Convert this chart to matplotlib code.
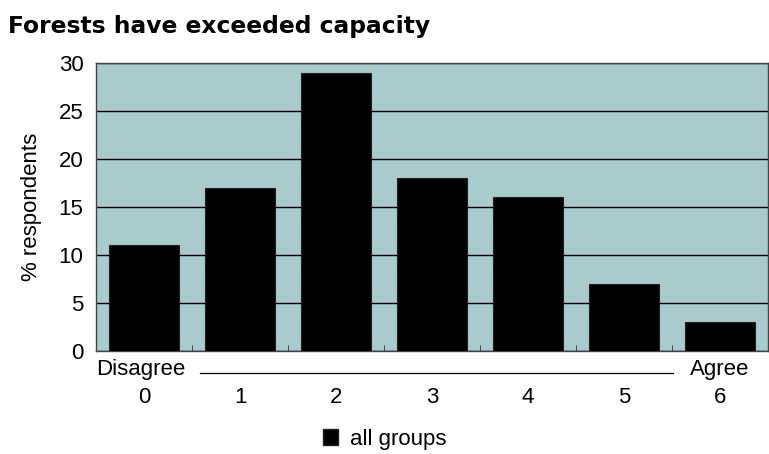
import matplotlib.pyplot as plt
from matplotlib.lines import Line2D
from matplotlib.patches import Patch

# data
categories = ['0', '1', '2', '3', '4', '5', '6']
values = [11, 17, 29, 18, 16, 7, 3]
series_name = 'all groups'
title = 'Forests have exceeded capacity'

plt.rcParams['font.family'] = ['Liberation Sans', 'DejaVu Sans']
FS = 16

fig = plt.figure(figsize=(7.69, 4.54), dpi=100)
ax = fig.add_axes([96 / 769, 1 - 351 / 454, 672 / 769, 288 / 454])
ax.set_facecolor('#a9cbcb')

x = list(range(len(categories)))
ax.bar(x, values, width=0.73, color='black', edgecolor='#222222', linewidth=0.8, zorder=3)

ax.set_xlim(-0.5, len(categories) - 0.5)
ax.set_ylim(0, 30)
ax.set_yticks(range(0, 31, 5))
ax.yaxis.grid(True, color='black', linewidth=1.0, zorder=1)
ax.set_axisbelow(True)
ax.tick_params(axis='y', length=0, labelsize=FS, pad=9)

# category labels under the axis, boundary ticks inside
ax.set_xticks(x)
ax.set_xticklabels(categories)
ax.tick_params(axis='x', length=0, labelsize=FS, pad=26)
ax.set_xticks([i + 0.5 for i in x[:-1]], minor=True)
ax.tick_params(axis='x', which='minor', direction='in', length=4, color='#333333')

for s in ax.spines.values():
    s.set_color('#444444')
    s.set_linewidth(1.0)

ax.set_ylabel('% respondents', fontsize=FS, labelpad=12)

# Disagree / Agree scale
ax.text(-0.03, -0.065, 'Disagree', transform=ax.get_xaxis_transform(), ha='center', va='center', fontsize=FS)
ax.text(6, -0.065, 'Agree', transform=ax.get_xaxis_transform(), ha='center', va='center', fontsize=FS)
fig.add_artist(Line2D([200 / 769, 673 / 769], [1 - 373 / 454, 1 - 373 / 454], color='black', linewidth=0.9))

fig.text(8 / 769, 1 - 33 / 454, title, fontsize=16.8, fontweight='heavy', va='baseline',
         family=['DejaVu Sans'])

fig.legend(handles=[Patch(facecolor='black', edgecolor='#222222', label=series_name)],
           loc='center', bbox_to_anchor=(0.5, 1 - 439 / 454), frameon=False, fontsize=FS,
           handlelength=0.7, handleheight=0.7, handletextpad=0.5)

fig.savefig('out.png', dpi=100)
